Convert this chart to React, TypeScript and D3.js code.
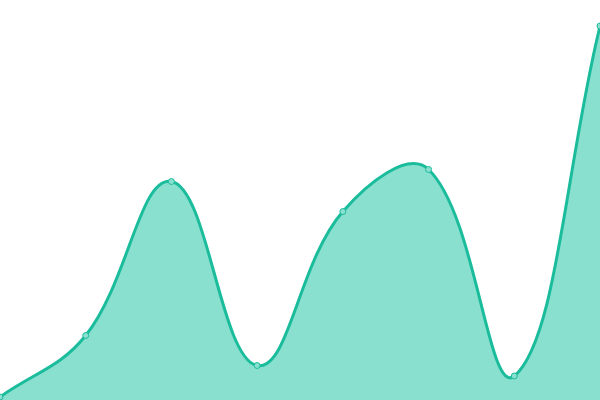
import { useMemo } from 'react';
import * as d3 from 'd3';

const WIDTH = 600;
const HEIGHT = 400;

// Data
const categories = ['A', 'B', 'C', 'D', 'E', 'F', 'G', 'H'];
const values = [3, 64.5, 218.5, 34.5, 188.5, 230.5, 24, 374];

const LINE_COLOR = '#1abc9c';
const FILL_COLOR = '#8ae0cf';
const TENSION = 0.4;

type Pt = [number, number];

// Bezier spline with distance-weighted control points (tension 0.4),
// control points clamped to the plot area
function splinePath(pts: Pt[], close: boolean) {
  const path = d3.path();
  const clamp = (p: Pt): Pt => [
    Math.max(0, Math.min(WIDTH, p[0])),
    Math.max(0, Math.min(HEIGHT, p[1])),
  ];
  const ctrl = pts.map((p, i) => {
    const prev = pts[i - 1] ?? p;
    const next = pts[i + 1] ?? p;
    const d01 = Math.hypot(p[0] - prev[0], p[1] - prev[1]);
    const d12 = Math.hypot(next[0] - p[0], next[1] - p[1]);
    const s = d01 + d12 || 1;
    const fa = (TENSION * d01) / s;
    const fb = (TENSION * d12) / s;
    const dx = next[0] - prev[0];
    const dy = next[1] - prev[1];
    return {
      before: clamp([p[0] - fa * dx, p[1] - fa * dy]),
      after: clamp([p[0] + fb * dx, p[1] + fb * dy]),
    };
  });
  path.moveTo(pts[0][0], pts[0][1]);
  for (let i = 1; i < pts.length; i++) {
    const a = ctrl[i - 1].after;
    const b = ctrl[i].before;
    path.bezierCurveTo(a[0], a[1], b[0], b[1], pts[i][0], pts[i][1]);
  }
  if (close) {
    path.lineTo(pts[pts.length - 1][0], HEIGHT);
    path.lineTo(pts[0][0], HEIGHT);
    path.closePath();
  }
  return path.toString();
}

export default function App() {
  const x = useMemo(
    () => d3.scalePoint<string>().domain(categories).range([0, WIDTH]),
    []
  );
  const y = useMemo(
    () => d3.scaleLinear().domain([0, 400]).range([HEIGHT, 0]),
    []
  );

  const pts: Pt[] = values.map((v, i) => [x(categories[i]) ?? 0, y(v)]);

  return (
    <svg
      width={WIDTH}
      height={HEIGHT}
      style={{ position: 'absolute', top: 0, left: 0, background: '#fff' }}
    >
      <path d={splinePath(pts, true)} fill={FILL_COLOR} />
      <path d={splinePath(pts, false)} fill="none" stroke={LINE_COLOR} strokeWidth={3} />
      {pts.map(([cx, cy], i) => (
        <circle
          key={categories[i]}
          cx={cx}
          cy={cy}
          r={3}
          fill={FILL_COLOR}
          stroke={LINE_COLOR}
          strokeWidth={1}
        />
      ))}
    </svg>
  );
}
